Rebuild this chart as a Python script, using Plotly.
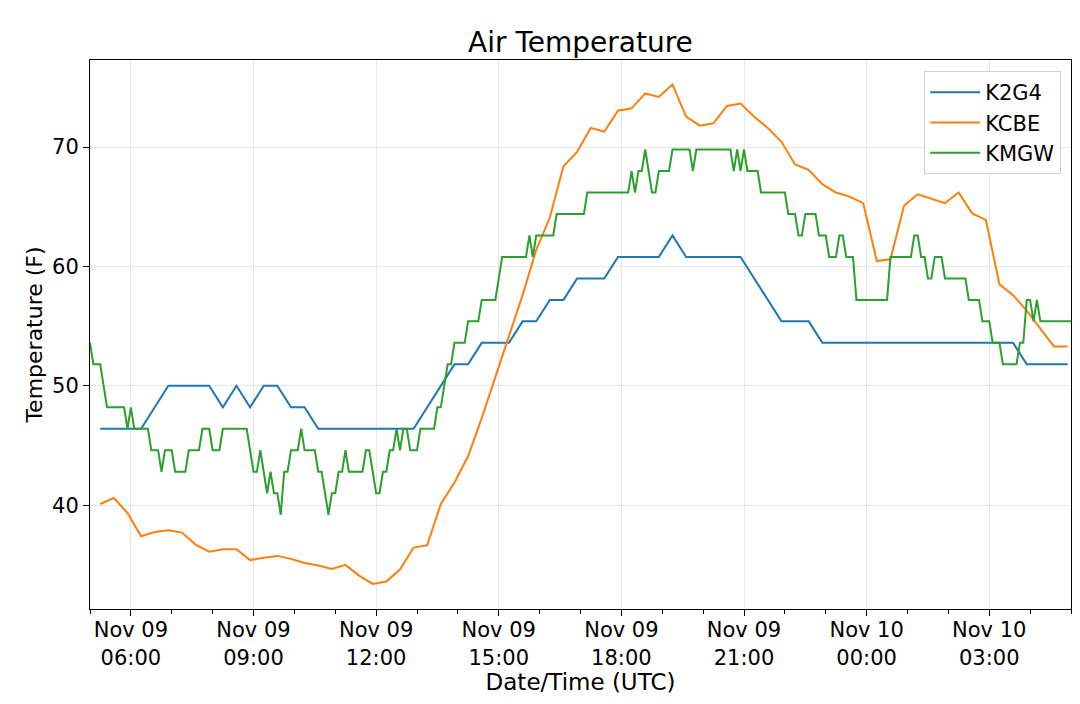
import plotly.graph_objects as go

# Station observations, Nov 09-10 (temperature in F)
day1 = "2018-11-09 "
day2 = "2018-11-10 "

k2g4_times = [
    "05:15", "06:15", "06:55", "07:55", "08:15", "08:35", "08:55", "09:15", "09:35",
    "09:55", "10:15", "10:35", "12:55", "13:55", "14:15", "14:35", "15:15", "15:35",
    "15:55", "16:15", "16:35", "16:55", "17:35", "17:55", "18:55", "19:15", "19:35",
    "20:55", "21:55", "22:35", "22:55", "+03:35", "+03:55", "+04:55",
]
k2g4_temp = [
    46.4, 46.4, 50.0, 50.0, 48.2, 50.0, 48.2, 50.0, 50.0,
    48.2, 48.2, 46.4, 46.4, 51.8, 51.8, 53.6, 53.6, 55.4,
    55.4, 57.2, 57.2, 59.0, 59.0, 60.8, 60.8, 62.6, 60.8,
    60.8, 55.4, 55.4, 53.6, 53.6, 51.8, 51.8,
]

kcbe_times = [
    "05:15", "05:35", "05:55", "06:15", "06:35", "06:55", "07:15", "07:35", "07:55",
    "08:15", "08:35", "08:55", "09:15", "09:35", "09:55", "10:15", "10:35", "10:55",
    "11:15", "11:35", "11:55", "12:15", "12:35", "12:55", "13:15", "13:35", "13:55",
    "14:15", "14:35", "14:55", "15:15", "15:35", "15:55", "16:15", "16:35", "16:55",
    "17:15", "17:35", "17:55", "18:15", "18:35", "18:55", "19:15", "19:35", "19:55",
    "20:15", "20:35", "20:55", "21:15", "21:35", "21:55", "22:15", "22:35", "22:55",
    "23:15", "23:35", "23:55", "+00:15", "+00:35", "+00:55", "+01:15", "+01:35", "+01:55",
    "+02:15", "+02:35", "+02:55", "+03:15", "+03:35", "+03:55", "+04:15", "+04:35", "+04:55",
]
kcbe_temp = [
    40.1, 40.6, 39.35, 37.4, 37.75, 37.9, 37.7, 36.7, 36.1,
    36.3, 36.3, 35.4, 35.6, 35.75, 35.5, 35.15, 34.95, 34.65,
    35.0, 34.1, 33.4, 33.6, 34.6, 36.45, 36.65, 40.1, 41.9,
    44.1, 47.3, 50.7, 54.2, 57.6, 61.4, 64.1, 68.4, 69.6,
    71.6, 71.3, 73.05, 73.25, 74.5, 74.2, 75.25, 72.55, 71.8,
    72.0, 73.45, 73.65, 72.55, 71.6, 70.45, 68.55, 68.1, 66.9,
    66.2, 65.85, 65.3, 60.45, 60.6, 65.1, 66.05, 65.7, 65.3,
    66.2, 64.45, 63.9, 58.5, 57.6, 56.3, 54.8, 53.3, 53.3,
]

kmgw_times = [
    "05:00", "05:05", "05:15", "05:25", "05:50", "05:55", "06:00", "06:05", "06:25",
    "06:30", "06:40", "06:45", "06:50", "07:00", "07:05", "07:20", "07:25", "07:40",
    "07:45", "07:55", "08:00", "08:10", "08:15", "08:50", "09:00", "09:05", "09:10",
    "09:20", "09:25", "09:30", "09:35", "09:40", "09:45", "09:50", "09:55", "10:05",
    "10:10", "10:15", "10:30", "10:35", "10:40", "10:50", "10:55", "11:00", "11:05",
    "11:10", "11:15", "11:20", "11:40", "11:45", "11:50", "11:55", "12:00", "12:05",
    "12:10", "12:15", "12:20", "12:25", "12:30", "12:35", "12:40", "12:45", "12:50",
    "13:00", "13:05", "13:25", "13:30", "13:35", "13:45", "13:50", "13:55", "14:10",
    "14:15", "14:30", "14:35", "14:55", "15:05", "15:40", "15:45", "15:50", "15:55",
    "16:20", "16:25", "17:05", "17:10", "18:10", "18:15", "18:20", "18:25", "18:30",
    "18:35", "18:40", "18:45", "18:50", "18:55", "19:10", "19:15", "19:40", "19:45",
    "19:50", "20:40", "20:45", "20:50", "20:55", "21:00", "21:05", "21:20", "21:25",
    "22:00", "22:05", "22:15", "22:20", "22:25", "22:30", "22:45", "22:50", "23:00",
    "23:05", "23:15", "23:20", "23:25", "23:30", "23:40", "23:45", "+00:30", "+00:35",
    "+01:05", "+01:10", "+01:15", "+01:20", "+01:25", "+01:30", "+01:35", "+01:40", "+01:50",
    "+01:55", "+02:25", "+02:30", "+02:45", "+02:50", "+03:00", "+03:05", "+03:15", "+03:20",
    "+03:40", "+03:45", "+03:50", "+03:55", "+04:00", "+04:05", "+04:10", "+04:15", "+04:50",
    "+05:00",
]
kmgw_temp = [
    53.6, 51.8, 51.8, 48.2, 48.2, 46.4, 48.2, 46.4, 46.4,
    44.6, 44.6, 42.8, 44.6, 44.6, 42.8, 42.8, 44.6, 44.6,
    46.4, 46.4, 44.6, 44.6, 46.4, 46.4, 42.8, 42.8, 44.6,
    41.0, 42.8, 41.0, 41.0, 39.2, 42.8, 42.8, 44.6, 44.6,
    46.4, 44.6, 44.6, 42.8, 42.8, 39.2, 41.0, 41.0, 42.8,
    42.8, 44.6, 42.8, 42.8, 44.6, 44.6, 42.8, 41.0, 41.0,
    42.8, 42.8, 44.6, 44.6, 46.4, 44.6, 46.4, 46.4, 44.6,
    44.6, 46.4, 46.4, 48.2, 48.2, 51.8, 51.8, 53.6, 53.6,
    55.4, 55.4, 57.2, 57.2, 60.8, 60.8, 62.6, 60.8, 62.6,
    62.6, 64.4, 64.4, 66.2, 66.2, 68.0, 66.2, 68.0, 68.0,
    69.8, 68.0, 66.2, 66.2, 68.0, 68.0, 69.8, 69.8, 68.0,
    69.8, 69.8, 68.0, 69.8, 68.0, 69.8, 68.0, 68.0, 66.2,
    66.2, 64.4, 64.4, 62.6, 62.6, 64.4, 64.4, 62.6, 62.6,
    60.8, 60.8, 62.6, 62.6, 60.8, 60.8, 57.2, 57.2, 60.8,
    60.8, 62.6, 62.6, 60.8, 60.8, 59.0, 59.0, 60.8, 60.8,
    59.0, 59.0, 57.2, 57.2, 55.4, 55.4, 53.6, 53.6, 51.8,
    51.8, 53.6, 53.6, 57.2, 57.2, 55.4, 57.2, 55.4, 55.4,
    55.4,
]


def stamp(t):
    # "+HH:MM" means the next day
    return day2 + t[1:] if t.startswith("+") else day1 + t


stations = [
    ("K2G4", k2g4_times, k2g4_temp, "#1f77b4"),
    ("KCBE", kcbe_times, kcbe_temp, "#ff7f0e"),
    ("KMGW", kmgw_times, kmgw_temp, "#2ca02c"),
]

fig = go.Figure()
for name, times, temps, color in stations:
    fig.add_trace(go.Scatter(
        x=[stamp(t) for t in times],
        y=temps,
        mode="lines",
        name=name,
        legendgroup=name,
        line=dict(color=color, width=2),
    ))

font_family = "DejaVu Sans"

# page body adds an 8px margin, so the figure is shrunk by that much
fig.update_layout(
    width=1072,
    height=696,
    paper_bgcolor="white",
    plot_bgcolor="white",
    margin=dict(l=82, r=9, t=52, b=95),
    font=dict(family=font_family, color="black", size=21),
    title=dict(
        text="Air Temperature",
        font=dict(size=28),
        x=0.534,
        xanchor="center",
        y=0.951,
        yanchor="middle",
    ),
    legend=dict(
        x=0.99,
        y=0.98,
        xanchor="right",
        yanchor="top",
        bordercolor="#d0d0d0",
        borderwidth=1,
        bgcolor="white",
        font=dict(size=21),
        tracegroupgap=0,
        itemwidth=50,
    ),
    showlegend=True,
)

fig.update_xaxes(
    type="date",
    automargin=False,
    range=[day1 + "05:00", day2 + "05:00"],
    tick0=day1 + "06:00",
    dtick=3 * 3600 * 1000,
    tickformat="%b %d\n%H:%M",
    ticks="outside",
    ticklen=6,
    tickcolor="black",
    ticklabelstandoff=-4,
    showline=True,
    mirror=True,
    linecolor="black",
    linewidth=1,
    showgrid=True,
    gridcolor="#e8e8e8",
    zeroline=False,
    minor=dict(dtick=3600 * 1000, ticks="outside", ticklen=4, tickcolor="black", showgrid=False),
    title=dict(text="Date/Time (UTC)", font=dict(size=23), standoff=4),
    tickfont=dict(size=21),
)

fig.update_yaxes(
    automargin=False,
    range=[31.3, 77.3],
    tickvals=[40, 50, 60, 70],
    ticks="outside",
    ticklen=6,
    tickcolor="black",
    showline=True,
    mirror=True,
    linecolor="black",
    linewidth=1,
    showgrid=True,
    gridcolor="#e8e8e8",
    zeroline=False,
    title=dict(text="Temperature (F)", font=dict(size=22), standoff=3),
    tickfont=dict(size=21),
)

fig.write_html("out.html")
